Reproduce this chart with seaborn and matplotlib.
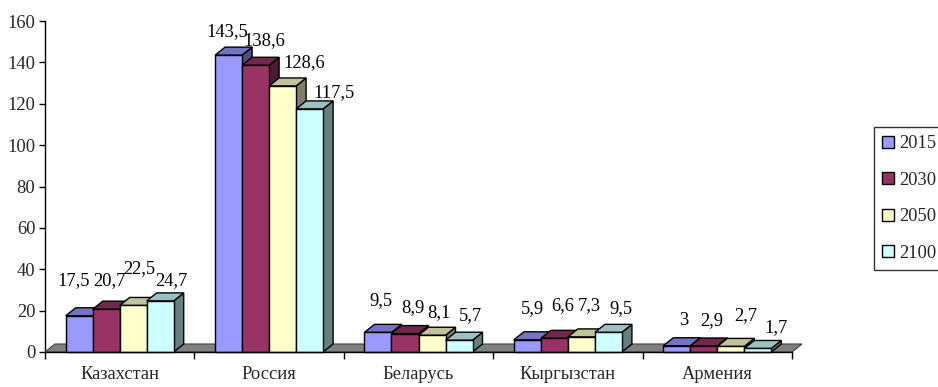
import matplotlib
matplotlib.use("Agg")
import matplotlib.pyplot as plt
import seaborn as sns
import pandas as pd
import numpy as np
from matplotlib.patches import Polygon, Patch
from matplotlib.colors import to_rgb

# ---- data ----
countries = ["Казахстан", "Россия", "Беларусь", "Кыргызстан", "Армения"]
years = ["2015", "2030", "2050", "2100"]
v2015 = [17.5, 143.5, 9.5, 5.9, 3.0]
v2030 = [20.7, 138.6, 8.9, 6.6, 2.9]
v2050 = [22.5, 128.6, 8.1, 7.3, 2.7]
v2100 = [24.7, 117.5, 5.7, 9.5, 1.7]
yticks = [0, 20, 40, 60, 80, 100, 120, 140, 160]

# ---- style ----
colors = ["#9999FF", "#993366", "#FFFFCC", "#CCFFFF"]
# per-label pixel nudges (dx, dy from bar front-top centre), per country, per year
label_nudges = [
    [(-5.5, 31), (3.5, 24), (6.5, 32), (11.5, 16)],
    [(-1, 19), (9, 20), (22, 19), (24, 12)],
    [(2.5, 27), (7.5, 21), (6.5, 18), (11.5, 20)],
    [(5.5, 27), (8.5, 28), (7.5, 27), (12.5, 19)],
    [(6.5, 21), (7.5, 21), (14.5, 26), (18.5, 16)],
]
FS = 13.3

sns.set_style("white")
plt.rcParams["font.family"] = ["Liberation Serif", "DejaVu Serif"]

series = {"2015": v2015, "2030": v2030, "2050": v2050, "2100": v2100}
rows = []
for y in years:
    for c, v in zip(countries, series[y]):
        rows.append({"country": c, "year": y, "value": v})
df = pd.DataFrame(rows)

W, H = 938, 387
fig = plt.figure(figsize=(W / 100, H / 100), dpi=100)
ax = fig.add_axes([45 / W, 35 / H, 747 / W, 331 / H])

sns.barplot(data=df, x="country", y="value", hue="year", order=countries,
            hue_order=years, palette=colors, saturation=1, width=0.723,
            edgecolor="black", linewidth=1, legend=False, ax=ax)

ax.set_xlim(-0.5, len(countries) - 0.5)
ax.set_ylim(0, 160)
ax.set_yticks(yticks)

# depth of the pseudo-3D effect, in data units (10 px right, 8 px up)
dx = 10 * (len(countries)) / 747
dy = 8 * 160 / 331

def shade(c, f):
    r, g, b = to_rgb(c)
    return (r * f, g * f, b * f)

# floor
floor = Polygon([(-0.5, 0), (len(countries) - 0.5, 0),
                 (len(countries) - 0.5 + dx, dy), (-0.5 + dx, dy)],
                closed=True, facecolor="#808080", edgecolor="#404040",
                linewidth=0.8, zorder=1, clip_on=False)
ax.add_patch(floor)

bars = sorted([p for p in ax.patches if p is not floor], key=lambda p: p.get_x())
for i, b in enumerate(bars):
    x0 = b.get_x()
    x1 = x0 + b.get_width()
    h = b.get_height()
    fc = b.get_facecolor()
    z = 2 + 3 * i
    side = Polygon([(x1, 0), (x1 + dx, dy), (x1 + dx, h + dy), (x1, h)],
                   closed=True, facecolor=shade(fc, 0.5), edgecolor="black",
                   linewidth=1, zorder=z, clip_on=False)
    top = Polygon([(x0, h), (x1, h), (x1 + dx, h + dy), (x0 + dx, h + dy)],
                  closed=True, facecolor=shade(fc, 0.76), edgecolor="black",
                  linewidth=1, zorder=z + 1, clip_on=False)
    ax.add_patch(side)
    ax.add_patch(top)
    b.set_zorder(z + 2)
    b.set_clip_on(False)

# value labels
for yi, y in enumerate(years):
    for ci, c in enumerate(countries):
        v = series[y][ci]
        b = bars[ci * len(years) + yi]
        cx = b.get_x() + b.get_width() / 2
        txt = f"{v:g}".replace(".", ",")
        ndx, ndy = label_nudges[ci][yi]
        ax.annotate(txt, xy=(cx, b.get_height()), xytext=(ndx, ndy),
                    textcoords="offset pixels", ha="center", va="baseline",
                    fontsize=FS, color="black", zorder=100,
                    annotation_clip=False)

# axes styling
for s in ["top", "right"]:
    ax.spines[s].set_visible(False)
for s in ["left", "bottom"]:
    ax.spines[s].set_color("black")
    ax.spines[s].set_linewidth(1)
    ax.spines[s].set_zorder(0.5)
ax.spines["bottom"].set_zorder(200)

ax.set_xlabel("")
ax.set_ylabel("")
ax.set_xticks(range(len(countries)))
ax.set_xticklabels(countries)
ax.set_xticks(np.arange(-0.5, len(countries)), minor=True)
ax.tick_params(axis="x", which="major", length=0, pad=10, labelsize=FS)
ax.tick_params(axis="x", which="minor", direction="out", length=5, width=1,
               color="black", bottom=True)
ax.tick_params(axis="y", direction="out", length=4.5, width=1, pad=2.5,
               labelsize=FS, color="black", left=True)
ax.grid(False)

# legend (frame runs past the right edge of the figure, as in the original)
handles = [Patch(facecolor=c, edgecolor="black", linewidth=1, label=y)
           for c, y in zip(colors, years)]
leg = fig.legend(handles=handles, loc="upper left",
                 bbox_to_anchor=(874 / W, 0, 95 / W, 1 - 127 / H),
                 mode="expand", frameon=True,
                 fancybox=False, shadow=False, fontsize=FS, borderpad=0.45,
                 labelspacing=1.05, handlelength=0.62, handleheight=0.62,
                 handletextpad=0.28, borderaxespad=0)
leg.get_frame().set_edgecolor("black")
leg.get_frame().set_linewidth(1)

fig.savefig("out.png", dpi=100)
